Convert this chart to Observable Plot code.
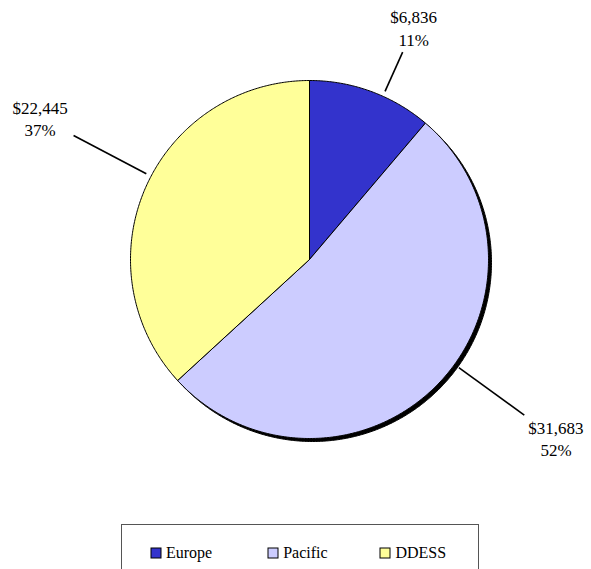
<!DOCTYPE html>
<html><head><meta charset="utf-8">
<script src="https://cdn.jsdelivr.net/npm/d3@7"></script>
<script src="https://cdn.jsdelivr.net/npm/@observablehq/plot@0.6"></script>
<style>
html,body{margin:0;padding:0;background:#fff;}
#chart{width:591px;}
#chart svg{display:block;}
#legendBox{margin-left:121px;width:356px;height:60px;border:1px solid #555;}
#legendBox, #legendBox *{font-family:"Liberation Serif","Times New Roman",Times,serif !important;font-size:16px !important;color:#000 !important;}
#legendBox .lg-swatches{margin:0 !important;padding-left:29px;height:56px;min-height:0;display:flex;flex-wrap:nowrap;align-items:center;}
#legendBox .lg-swatch{margin-right:0 !important;display:inline-flex;align-items:center;}
#legendBox .lg-swatch svg{margin-right:5px !important;overflow:visible;}
#legendBox .lg-swatch svg rect{stroke:#000;stroke-width:1px;}
</style></head><body><div id="chart"></div><script>
const regions = ["Europe", "Pacific", "DDESS"];
const costs = [6836, 31683, 22445];
const colors = ["#3333CC", "#CCCCFF", "#FFFF99"];
const labelNudgeDeg = [4, -8, 4];

const PX = 179;                 // pixels per unit radius
const total = d3.sum(costs);
let acc = 0;
const slices = regions.map((name, i) => {
  const a0 = acc / total * 2 * Math.PI; acc += costs[i];
  const a1 = acc / total * 2 * Math.PI;
  return {name, value: costs[i], a0, a1};
});
const pt = (a, r) => ({x: r * Math.sin(a), y: r * Math.cos(a)});
const arcPts = (name, a0, a1, closeCenter) => {
  const n = Math.max(2, Math.ceil((a1 - a0) / (Math.PI / 360)));
  const arr = closeCenter ? [{name, x: 0, y: 0}] : [];
  for (let k = 0; k <= n; k++) arr.push({name, ...pt(a0 + (a1 - a0) * k / n, 1)});
  if (closeCenter) arr.push({name, x: 0, y: 0});
  return arr;
};
const slicePts = slices.flatMap(s => arcPts(s.name, s.a0, s.a1, true));
const circlePts = arcPts("shadow", 0, 2 * Math.PI, false);

const maxY = (259 - 27) / PX, hw = 29 / PX, hh = 20 / PX;
const labels = slices.map((s, i) => {
  const th = (s.a0 + s.a1) / 2 + labelNudgeDeg[i] * Math.PI / 180;
  const c = Math.cos(th), sn = Math.sin(th);
  const r = c > 0 ? Math.min(1.70, maxY / c) : 1.70;
  const edge = Math.min(hw / Math.max(1e-6, Math.abs(sn)), hh / Math.max(1e-6, Math.abs(c)));
  const rEnd = r - edge - 5 / PX;
  const p0 = pt(th, 1.03), p1 = pt(th, rEnd), pl = pt(th, r);
  return {
    name: s.name, x1: p0.x, y1: p0.y, x2: p1.x, y2: p1.y, x: pl.x, y: pl.y,
    text: "$" + d3.format(",")(s.value) + "\n" + Math.round(s.value / total * 100) + "%"
  };
});

const chart = Plot.plot({
  width: 591, height: 524,
  marginTop: 0, marginRight: 0, marginBottom: 0, marginLeft: 0,
  x: {domain: [-1, 1], range: [309 - PX, 309 + PX], axis: null},
  y: {domain: [-1, 1], range: [259 + PX, 259 - PX], axis: null},
  color: {domain: regions, range: colors},
  style: {background: "#fff"},
  marks: [
    Plot.line(circlePts, {x: "x", y: "y", fill: "#000", stroke: "#000", strokeWidth: 1, dx: 3, dy: 3, curve: "linear"}),
    Plot.line(slicePts, {x: "x", y: "y", z: "name", fill: "name", stroke: "#000", strokeWidth: 1, curve: "linear"}),
    Plot.link(labels, {x1: "x1", y1: "y1", x2: "x2", y2: "y2", stroke: "#000", strokeWidth: 1.6}),
    Plot.text(labels, {x: "x", y: "y", text: "text", fontSize: 17, fontFamily: "'Liberation Serif', 'Times New Roman', Times, serif", lineHeight: 1.32, fill: "#000"})
  ]
});
document.getElementById("chart").appendChild(chart);

const box = document.createElement("div");
box.id = "legendBox";
const leg = Plot.legend({color: chart.scale("color"), legend: "swatches", swatchSize: 10, className: "lg"});
box.appendChild(leg);
document.getElementById("chart").appendChild(box);
const widths = [120, 115, 100];
box.querySelectorAll(".lg-swatch").forEach((el, i) => { el.style.width = widths[i] + "px"; });
</script></body></html>
